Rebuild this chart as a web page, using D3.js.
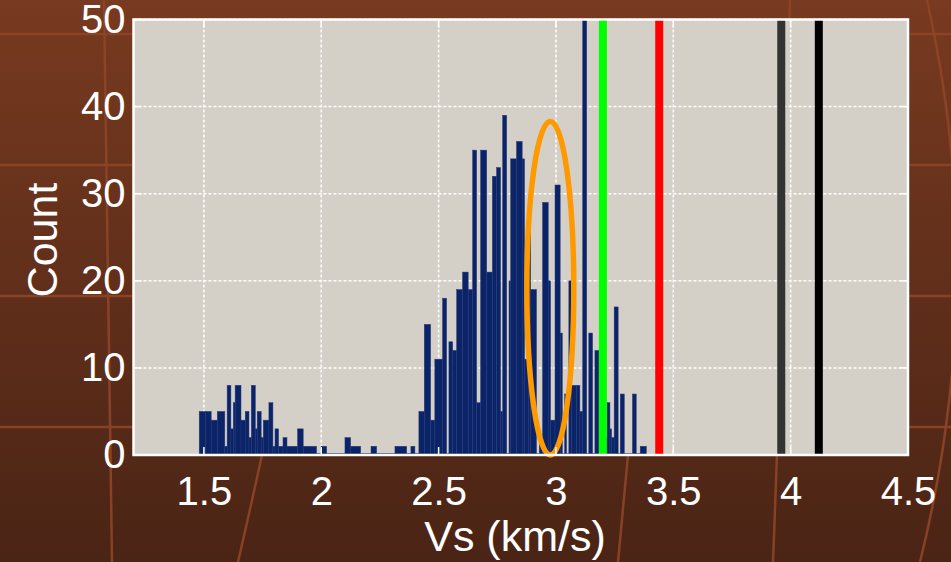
<!DOCTYPE html>
<html>
<head>
<meta charset="utf-8">
<script src="https://cdn.jsdelivr.net/npm/d3@7"></script>
<style>
  html, body { margin: 0; padding: 0; background: #5e2c19; }
  svg { display: block; }
</style>
</head>
<body>
<div id="chart"></div>
<script>
// bar edges in km/s and the count in each bar
const binEdges = [1.480, 1.506, 1.531, 1.557, 1.589, 1.599, 1.615, 1.625, 1.633, 1.658,
  1.676, 1.692, 1.702, 1.719, 1.727, 1.744, 1.753, 1.777, 1.794, 1.803,
  1.818, 1.837, 1.854, 1.899, 1.923, 1.980, 1.999, 2.023, 2.101, 2.125,
  2.168, 2.212, 2.236, 2.314, 2.364, 2.382, 2.399, 2.416, 2.439, 2.466,
  2.484, 2.517, 2.534, 2.544, 2.560, 2.577, 2.602, 2.626, 2.645, 2.662,
  2.679, 2.705, 2.729, 2.747, 2.764, 2.773, 2.790, 2.800, 2.807, 2.832,
  2.856, 2.866, 2.882, 2.892, 2.917, 2.929, 2.943, 2.967, 2.977, 2.996,
  3.018, 3.027, 3.037, 3.045, 3.055, 3.066, 3.088, 3.102, 3.114, 3.131,
  3.140, 3.156, 3.166, 3.183, 3.218, 3.230, 3.237, 3.248, 3.265, 3.274,
  3.291, 3.326, 3.342, 3.359, 3.385];
const counts = [5, 5, 4, 5, 1, 8, 3, 6, 8, 4,
  5, 2, 8, 3, 5, 2, 4, 6, 1, 3,
  1, 2, 1, 3, 1, 0, 1, 0, 2, 1,
  0, 1, 0, 1, 0, 1, 0, 5, 15, 4,
  11, 18, 0, 13, 12, 19, 21, 19, 35, 6,
  35, 21, 32, 33, 5, 39, 0, 20, 34, 36,
  34, 11, 27, 19, 0, 2, 29, 20, 4, 31,
  14, 0, 7, 0, 20, 8, 8, 5, 52, 0,
  14, 0, 12, 2, 6, 3, 2, 17, 0, 7,
  0, 7, 0, 1];

// reference velocities drawn as thick vertical lines
const refVs = [3.2, 3.44, 3.96, 4.12];
const refColors = ['#00ff00', '#ff0000', '#333333', '#000000'];

// highlighted area (orange ellipse), in data units
const highlight = { vs: 2.976, count: 19.15, rVs: 0.1, rCount: 19.15 };

const xTicks = [1.5, 2, 2.5, 3, 3.5, 4, 4.5];
const yTicks = [0, 10, 20, 30, 40, 50];
const xDomain = [1.2, 4.5];
const yDomain = [0, 50];

const largura = 951, altura = 562;
const m = { left: 133.5, right: 908, top: 19.5, bottom: 455 };

const svg = d3.select('#chart')
  .append('svg')
  .attr('width', largura)
  .attr('height', altura)
  .attr('viewBox', '0 0 ' + largura + ' ' + altura);

// slide background
const defs = svg.append('defs');
const grad = defs.append('linearGradient')
  .attr('id', 'fundo').attr('x1', 0).attr('y1', 0).attr('x2', 0).attr('y2', 1);
grad.append('stop').attr('offset', '0%').attr('stop-color', '#783a20');
grad.append('stop').attr('offset', '100%').attr('stop-color', '#4a2415');
defs.append('clipPath').attr('id', 'area')
  .append('rect')
  .attr('x', m.left).attr('y', m.top)
  .attr('width', m.right - m.left).attr('height', m.bottom - m.top);

svg.append('rect')
  .attr('width', largura).attr('height', altura)
  .attr('fill', 'url(#fundo)');

const deco = svg.append('g')
  .attr('fill', 'none')
  .attr('stroke', '#8f4527')
  .attr('stroke-width', 2.5)
  .attr('opacity', 0.9);
[34, 165, 296, 427].forEach(yy => {
  deco.append('line').attr('x1', 0).attr('x2', largura).attr('y1', yy).attr('y2', yy);
});
['M104,0 Q108,280 112,562', 'M262,455 Q250,510 238,562', 'M628,455 Q623,510 618,562',
 'M790,0 Q784,280 773,562', 'M927,0 Q990,280 920,562'].forEach(d => {
  deco.append('path').attr('d', d);
});

const x = d3.scaleLinear().domain(xDomain).range([m.left, m.right]);
const y = d3.scaleLinear().domain(yDomain).range([m.bottom, m.top]);

// plot area
svg.append('rect')
  .attr('x', m.left).attr('y', m.top)
  .attr('width', m.right - m.left).attr('height', m.bottom - m.top)
  .attr('fill', '#d4d0c8');

// grid
const grid = svg.append('g')
  .attr('stroke', '#ffffff')
  .attr('stroke-width', 1.5)
  .attr('stroke-dasharray', '3,2');
grid.selectAll('.gx')
  .data(xTicks.filter(t => t < xDomain[1]))
  .enter()
  .append('line')
  .attr('x1', d => x(d)).attr('x2', d => x(d))
  .attr('y1', m.top).attr('y2', m.bottom);
grid.selectAll('.gy')
  .data(yTicks.filter(t => t > 0))
  .enter()
  .append('line')
  .attr('y1', d => y(d)).attr('y2', d => y(d))
  .attr('x1', m.left).attr('x2', m.right);

// histogram bars
const barras = counts.map((c, i) => ({ x0: binEdges[i], x1: binEdges[i + 1], c: c }));
svg.append('g')
  .attr('clip-path', 'url(#area)')
  .selectAll('rect')
  .data(barras)
  .enter()
  .append('rect')
  .attr('x', d => x(d.x0))
  .attr('width', d => x(d.x1) - x(d.x0))
  .attr('y', d => Math.min(y(d.c), m.bottom - 1.5))
  .attr('height', d => Math.max(m.bottom - y(d.c), 1.5))
  .attr('fill', '#0b2467')
  .attr('stroke', '#24387a')
  .attr('stroke-width', 0.5);

// reference lines
svg.append('g')
  .selectAll('line')
  .data(refVs)
  .enter()
  .append('line')
  .attr('x1', d => x(d)).attr('x2', d => x(d))
  .attr('y1', y(50)).attr('y2', y(0))
  .attr('stroke', (d, i) => refColors[i])
  .attr('stroke-width', 8);

// orange ellipse
svg.append('ellipse')
  .attr('cx', x(highlight.vs))
  .attr('cy', y(highlight.count))
  .attr('rx', x(highlight.vs + highlight.rVs) - x(highlight.vs))
  .attr('ry', y(0) - y(highlight.rCount))
  .attr('fill', 'none')
  .attr('stroke', '#ff9900')
  .attr('stroke-width', 5.5);

// box and inner ticks
svg.append('rect')
  .attr('x', m.left).attr('y', m.top)
  .attr('width', m.right - m.left).attr('height', m.bottom - m.top)
  .attr('fill', 'none')
  .attr('stroke', '#ffffff')
  .attr('stroke-width', 2.5);

const ticks = svg.append('g').attr('stroke', '#ffffff').attr('stroke-width', 1.5);
yTicks.forEach(t => {
  ticks.append('line').attr('x1', m.left).attr('x2', m.left + 8).attr('y1', y(t)).attr('y2', y(t));
  ticks.append('line').attr('x1', m.right).attr('x2', m.right - 8).attr('y1', y(t)).attr('y2', y(t));
});
xTicks.forEach(t => {
  ticks.append('line').attr('x1', x(t)).attr('x2', x(t)).attr('y1', m.bottom).attr('y2', m.bottom - 8);
  ticks.append('line').attr('x1', x(t)).attr('x2', x(t)).attr('y1', m.top).attr('y2', m.top + 8);
});

// axis labels
const fonte = '"Liberation Sans", Arial, sans-serif';
const xAxis = d3.axisBottom(x).tickValues(xTicks).tickFormat(d3.format('')).tickSize(0).tickPadding(22);
const yAxis = d3.axisLeft(y).tickValues(yTicks).tickSize(0).tickPadding(8);

svg.append('g')
  .attr('transform', 'translate(0,' + m.bottom + ')')
  .call(xAxis)
  .call(g => g.select('.domain').remove())
  .selectAll('text')
  .attr('fill', '#ffffff')
  .attr('font-family', fonte)
  .attr('font-size', 40);

svg.append('g')
  .attr('transform', 'translate(' + m.left + ',0)')
  .call(yAxis)
  .call(g => g.select('.domain').remove())
  .selectAll('text')
  .attr('fill', '#ffffff')
  .attr('font-family', fonte)
  .attr('font-size', 40);

svg.append('text')
  .attr('x', 515).attr('y', 551)
  .attr('text-anchor', 'middle')
  .attr('fill', '#ffffff')
  .attr('font-family', fonte)
  .attr('font-size', 43)
  .text('Vs (km/s)');

svg.append('text')
  .attr('transform', 'translate(57,240) rotate(-90)')
  .attr('text-anchor', 'middle')
  .attr('fill', '#ffffff')
  .attr('font-family', fonte)
  .attr('font-size', 43)
  .text('Count');
</script>
</body>
</html>
